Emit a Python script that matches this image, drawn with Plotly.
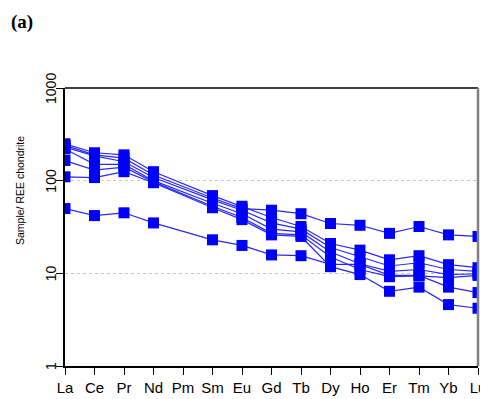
import math
import plotly.graph_objects as go

elements = ["La", "Ce", "Pr", "Nd", "Pm", "Sm", "Eu", "Gd", "Tb", "Dy", "Ho", "Er", "Tm", "Yb", "Lu"]
y_ticks = [1, 10, 100, 1000]
y_tick_labels = ["1", "10", "100", "1000"]

# Chondrite-normalised REE values (Pm not analysed -> None)
s1 = [50, 42, 45, 35, None, 23, 20, 15.8, 15.5, 12.5, 12.5, 9.5, 9.5, 7.1, 6.2]
s2 = [240, 190, 175, 115, None, 65, 50, 48, 44, 34.5, 33, 27, 32, 26, 25]
s3 = [250, 200, 190, 125, None, 69, 53, 40, 32, 21, 17.8, 14, 15.5, 12.4, 11.5]
s4 = [230, 185, 160, 108, None, 62, 48, 35, 30, 19, 15, 12, 13, 11, 10.5]
s5 = [220, 150, 150, 100, None, 57, 44, 30, 28, 17, 12.7, 10.5, 11, 9.7, 9.9]
s6 = [165, 130, 140, 97, None, 53, 40, 27, 26, 15, 11, 9.2, 9.4, 9, 9.5]
s7 = [110, 108, 125, 95, None, 51, 38, 26, 25, 11.8, 9.7, 6.4, 7.1, 4.6, 4.2]

series = [s1, s2, s3, s4, s5, s6, s7]
xpos = list(range(len(elements)))

fig = go.Figure()
for s in series:
    fig.add_trace(go.Scatter(
        x=xpos, y=s, mode="lines+markers", connectgaps=True,
        line=dict(color="rgb(40,40,245)", width=1.2),
        marker=dict(symbol="square", size=11, color="#0000ff", line=dict(width=0)),
        showlegend=False, cliponaxis=True,
    ))

# page body has an 8px margin, so the figure is 8px smaller and shifted
fig.update_layout(
    width=480, height=391,
    margin=dict(l=57, r=10, t=80, b=33),
    paper_bgcolor="white", plot_bgcolor="white",
    font=dict(family="Liberation Sans", color="black"),
)
fig.update_xaxes(
    range=[0, 14], tickmode="array", tickvals=xpos, ticktext=elements,
    showline=True, linecolor="black", linewidth=1.5, automargin=False,
    ticks="outside", ticklen=7, tickcolor="black", tickwidth=1,
    showgrid=False, zeroline=False, tickfont=dict(size=15, family="Liberation Sans"),
)
fig.update_yaxes(
    type="log", range=[0, 3], tickmode="array", tickvals=y_ticks,
    showticklabels=False, automargin=False,
    showline=True, linecolor="black", linewidth=1.5,
    ticks="outside", ticklen=7, tickcolor="black", tickwidth=1,
    showgrid=True, gridcolor="#c8c8c8", griddash="dot", gridwidth=1,
    zeroline=False,
)
# rotated y tick labels close to the axis
for v, t in zip(y_ticks, y_tick_labels):
    fig.add_annotation(text=t, xref="paper", yref="y", x=-0.034, y=math.log10(v),
                       textangle=-90, showarrow=False, xanchor="center", yanchor="middle",
                       font=dict(size=14, family="Liberation Sans"))

# top (black) and right (grey) borders
fig.add_shape(type="line", xref="paper", yref="paper", x0=0, x1=1, y0=1, y1=1,
              line=dict(color="black", width=1.5))
fig.add_shape(type="line", xref="paper", yref="paper", x0=1, x1=1, y0=0, y1=1,
              line=dict(color="#808080", width=2.5))

fig.add_annotation(text="Sample/ REE chondrite", xref="paper", yref="paper",
                   x=-0.109, y=0.633, textangle=-90, showarrow=False,
                   font=dict(size=10.5, family="Liberation Sans"),
                   xanchor="center", yanchor="middle")
fig.add_annotation(text="<b>(a)</b>", xref="paper", yref="paper",
                   x=-0.135, y=1.236, showarrow=False, xanchor="left", yanchor="middle",
                   font=dict(size=19, family="Liberation Serif, Times New Roman, serif"))

fig.write_html("out.html")
